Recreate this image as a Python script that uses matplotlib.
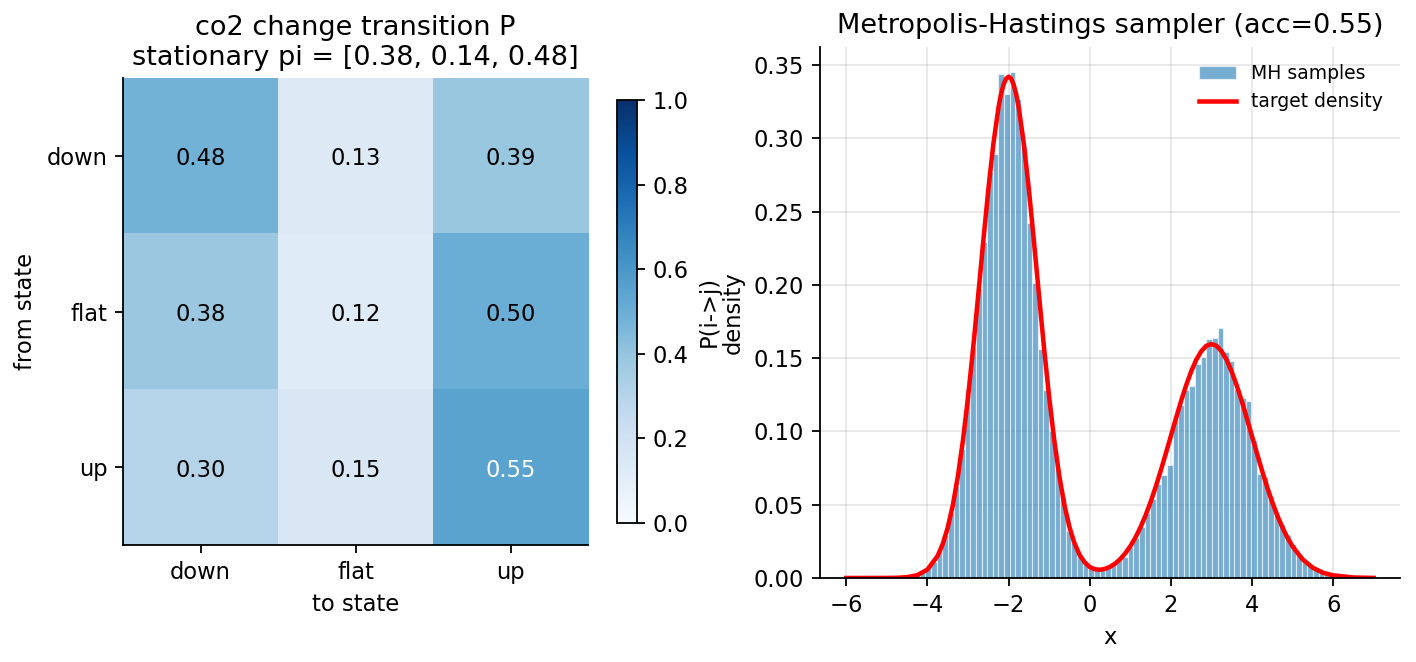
import numpy as np
import matplotlib
matplotlib.use("Agg")
import matplotlib.pyplot as plt

plt.rcParams["axes.spines.top"] = False
plt.rcParams["axes.spines.right"] = False

# transition matrix (rows = from, cols = to)
states = ["down", "flat", "up"]
P = [[0.48, 0.13, 0.39],
     [0.38, 0.12, 0.50],
     [0.30, 0.15, 0.55]]
stationary = [0.38, 0.14, 0.48]

# MH histogram (density per bin)
bin_start = -4.466
bin_width = 0.1385
hist_heights = [0.001, 0.002, 0.004, 0.007, 0.011, 0.019, 0.029, 0.0445, 0.063, 0.088,
                0.129, 0.157, 0.197, 0.229, 0.277, 0.289, 0.3436, 0.330, 0.345, 0.3265,
                0.295, 0.242, 0.201, 0.156, 0.128, 0.1005, 0.075, 0.055, 0.032, 0.024,
                0.015, 0.010, 0.007, 0.006, 0.006, 0.007, 0.009, 0.012, 0.014, 0.021,
                0.027, 0.035, 0.044, 0.054, 0.064, 0.070, 0.077, 0.1085, 0.118, 0.128,
                0.131, 0.146, 0.151, 0.163, 0.164, 0.1705, 0.154, 0.148, 0.129, 0.123,
                0.121, 0.094, 0.071, 0.069, 0.056, 0.045, 0.037, 0.029, 0.023, 0.016,
                0.012, 0.009, 0.007, 0.004, 0.003, 0.002, 0.001, 0.001, 0.0005, 0.0003]

# target density
dens_x = [-6.0, -5.5, -5.0, -4.75, -4.5, -4.25, -4.0, -3.75, -3.625, -3.5, -3.375,
          -3.25, -3.125, -3.0, -2.875, -2.75, -2.625, -2.5, -2.375, -2.25, -2.1875,
          -2.125, -2.0625, -2.0, -1.9375, -1.875, -1.8125, -1.75, -1.625, -1.5, -1.375,
          -1.25, -1.125, -1.0, -0.875, -0.75, -0.625, -0.5, -0.375, -0.25, -0.125, 0.0,
          0.125, 0.25, 0.375, 0.5, 0.625, 0.75, 0.875, 1.0, 1.125, 1.25, 1.375, 1.5,
          1.625, 1.75, 1.875, 2.0, 2.125, 2.25, 2.375, 2.5, 2.625, 2.75, 2.875, 3.0,
          3.125, 3.25, 3.375, 3.5, 3.625, 3.75, 3.875, 4.0, 4.125, 4.25, 4.375, 4.5,
          4.625, 4.75, 4.875, 5.0, 5.25, 5.5, 5.75, 6.0, 6.5, 7.0]
dens_y = [0.0, 0.0, 0.00004, 0.00015, 0.00058, 0.00195, 0.00577, 0.01503, 0.0231, 0.03444,
          0.0497, 0.06946, 0.0940, 0.1233, 0.1566, 0.1927, 0.2296, 0.2650, 0.2963, 0.3209,
          0.3300, 0.3366, 0.3406, 0.3420, 0.3406, 0.3366, 0.3300, 0.3209, 0.2963, 0.2650,
          0.2296, 0.1927, 0.1566, 0.1234, 0.0941, 0.0696, 0.0499, 0.0348, 0.0236, 0.0158,
          0.0107, 0.0075, 0.0060, 0.0056, 0.0062, 0.0076, 0.0098, 0.0128, 0.0168, 0.0216,
          0.0275, 0.0345, 0.0426, 0.0518, 0.0620, 0.0731, 0.0848, 0.0968, 0.1088, 0.1205,
          0.1313, 0.1408, 0.1488, 0.1547, 0.1584, 0.1596, 0.1584, 0.1547, 0.1488, 0.1408,
          0.1313, 0.1205, 0.1088, 0.0968, 0.0848, 0.0731, 0.0620, 0.0518, 0.0426, 0.0345,
          0.0275, 0.0216, 0.0127, 0.0070, 0.0036, 0.0018, 0.00035, 0.00005]
acc = 0.55

dpi = 162.5
fig = plt.figure(figsize=(1416 / dpi, 662 / dpi), dpi=dpi)
ax1 = fig.add_axes([0.0869, 0.1767, 0.3284, 0.7054])
cax = fig.add_axes([0.4357, 0.21, 0.0141, 0.639])
ax2 = fig.add_axes([0.5791, 0.1269, 0.4096, 0.8021])

# left: transition heatmap
P_arr = np.array(P)
im = ax1.imshow(P_arr, cmap="Blues", vmin=0, vmax=1, aspect="auto")
for i in range(len(states)):
    for j in range(len(states)):
        v = P_arr[i, j]
        ax1.text(j, i + 0.02, "%.2f" % v, ha="center", va="center",
                 color="white" if v > 0.5 else "black", fontsize=10)
ax1.set_xticks(range(len(states)))
ax1.set_xticklabels(states)
ax1.set_yticks(range(len(states)))
ax1.set_yticklabels(states)
ax1.set_xlabel("to state")
ax1.set_ylabel("from state")
ax1.set_title("co2 change transition P\nstationary pi = [%s]"
              % ", ".join("%.2f" % s for s in stationary))
cb = fig.colorbar(im, cax=cax)
cb.set_label("P(i->j)")

# right: MH histogram + target density
edges = bin_start + bin_width * np.arange(len(hist_heights) + 1)
bars = ax2.bar(edges[:-1], hist_heights, width=bin_width, align="edge",
               color="tab:blue", alpha=0.6, edgecolor="white", linewidth=0.5,
               label="MH samples")
line, = ax2.plot(dens_x, dens_y, color="red", lw=2, label="target density")
ax2.set_xlabel("x")
ax2.set_ylabel("density")
ax2.set_title("Metropolis-Hastings sampler (acc=%.2f)" % acc)
ax2.grid(alpha=0.3)
ax2.set_axisbelow(True)
ax2.legend([bars, line], ["MH samples", "target density"],
           frameon=False, fontsize=8.3, loc="upper right")

fig.savefig("out.png", dpi=dpi)
